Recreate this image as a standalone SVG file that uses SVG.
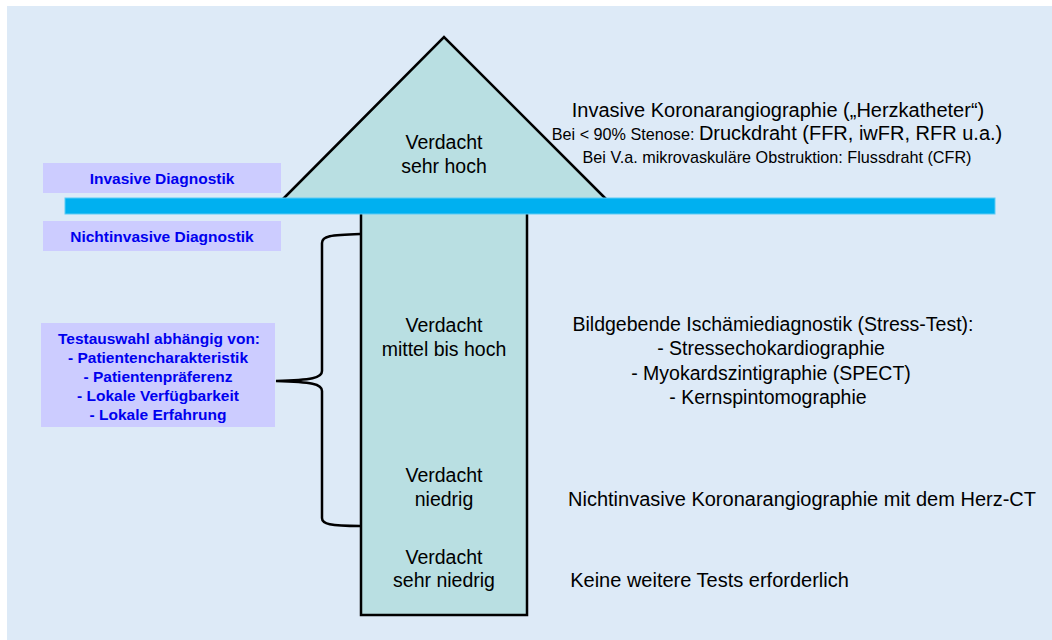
<svg xmlns="http://www.w3.org/2000/svg" width="1052" height="640" viewBox="0 0 1052 640">
<style>
.t{font-family:"Liberation Sans",Arial,sans-serif;fill:#000;text-anchor:middle}
.big{font-size:19.5px}
.xl{font-size:20px}
.sm{font-size:16.2px}
.lab{font-family:"Liberation Sans",Arial,sans-serif;font-weight:bold;font-size:15.5px;fill:#0000EE;text-anchor:middle}
.labbox{fill:#CCCCFF}
.shape{fill:#B9DFE2}
.edge{fill:none;stroke:#000;stroke-width:2.5}
</style>
<rect x="0" y="0" width="1052" height="640" fill="#FFFFFF"/>
<rect x="7" y="6" width="1045" height="634" fill="#DDEAF7"/>

<g id="pyramid">
  <polygon class="shape" points="283,199 444,37 606,199"/>
  <polyline class="edge" points="283,199 444,37 606,199"/>
  <rect class="shape" x="361" y="206" width="166" height="409" stroke="#000" stroke-width="2.5"/>
</g>

<g id="bar">
  <rect x="65" y="198" width="930" height="16" fill="#00B0F0" stroke="#5CCBF5" stroke-width="1"/>
</g>

<g id="label-invasive">
  <rect class="labbox" x="43" y="163" width="238" height="30"/>
  <text class="lab" x="162" y="184">Invasive Diagnostik</text>
</g>
<g id="label-nichtinvasive">
  <rect class="labbox" x="43" y="221" width="238" height="30"/>
  <text class="lab" x="162" y="242">Nichtinvasive Diagnostik</text>
</g>
<g id="label-testauswahl">
  <rect class="labbox" x="41" y="323" width="234" height="104"/>
  <text class="lab" x="159" y="344">Testauswahl abhängig von:</text>
  <text class="lab" x="158" y="363">- Patientencharakteristik</text>
  <text class="lab" x="158" y="382">- Patientenpräferenz</text>
  <text class="lab" x="158" y="401">- Lokale Verfügbarkeit</text>
  <text class="lab" x="158" y="420">- Lokale Erfahrung</text>
</g>

<g id="connectors">
  <path class="edge" d="M360,234 C330,235 322,236 322,243 L322,371 C322,378 312,380 276,381 C312,382 322,384 322,391 L322,518 C322,524 330,526 360,526"/>
</g>

<g id="level-sehr-hoch">
  <text class="t big" x="444" y="149">Verdacht</text>
  <text class="t big" x="444" y="173">sehr hoch</text>
</g>
<g id="level-mittel">
  <text class="t big" x="444" y="332">Verdacht</text>
  <text class="t big" x="444" y="356">mittel bis hoch</text>
</g>
<g id="level-niedrig">
  <text class="t big" x="444" y="482">Verdacht</text>
  <text class="t big" x="444" y="506">niedrig</text>
</g>
<g id="level-sehr-niedrig">
  <text class="t big" x="444" y="564">Verdacht</text>
  <text class="t big" x="444" y="587">sehr niedrig</text>
</g>

<g id="desc-invasive">
  <text class="t xl" x="778" y="117">Invasive Koronarangiographie („Herzkatheter“)</text>
  <text class="t" x="777" y="140"><tspan class="sm">Bei &lt; 90% Stenose: </tspan><tspan class="xl">Druckdraht (FFR, iwFR, RFR u.a.)</tspan></text>
  <text class="t sm" x="777" y="163">Bei V.a. mikrovaskuläre Obstruktion: Flussdraht (CFR)</text>
</g>
<g id="desc-stress">
  <text class="t big" x="773" y="331">Bildgebende Ischämiediagnostik (Stress-Test):</text>
  <text class="t big" x="771" y="355">- Stressechokardiographie</text>
  <text class="t big" x="771" y="380">- Myokardszintigraphie (SPECT)</text>
  <text class="t big" x="768" y="404">- Kernspintomographie</text>
</g>
<g id="desc-ct">
  <text class="t xl" x="802" y="506">Nichtinvasive Koronarangiographie mit dem Herz-CT</text>
</g>
<g id="desc-none">
  <text class="t xl" x="709.5" y="587">Keine weitere Tests erforderlich</text>
</g>
</svg>
